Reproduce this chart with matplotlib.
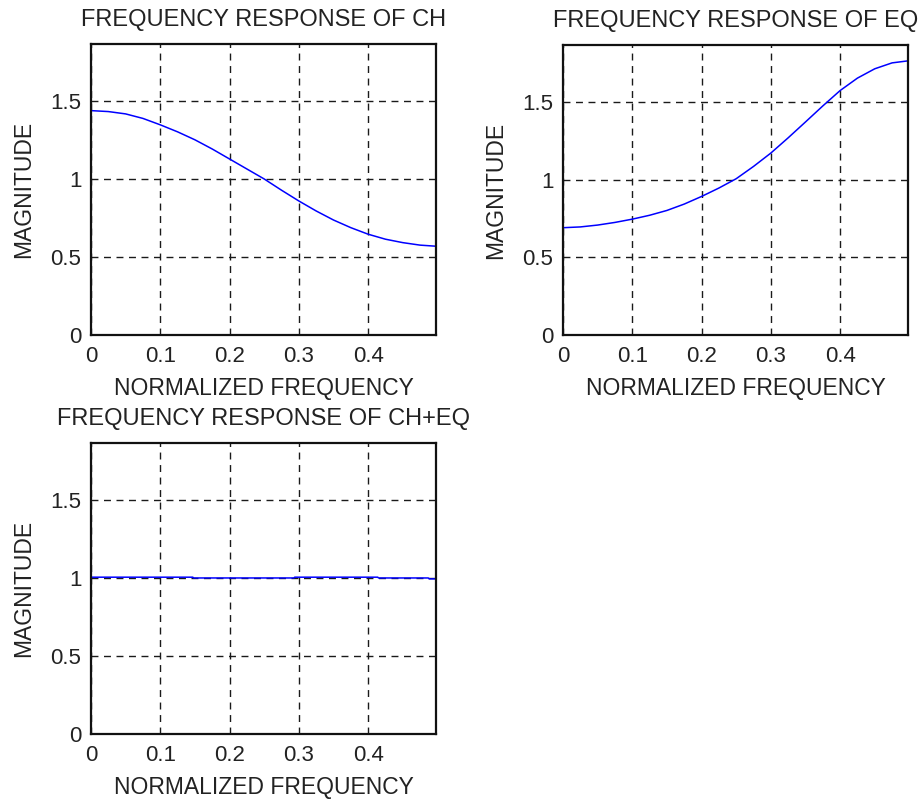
import matplotlib.pyplot as plt

# normalized frequency grid
freq = [0.0, 0.025, 0.05, 0.075, 0.1, 0.125, 0.15, 0.175, 0.2, 0.225, 0.25,
        0.275, 0.3, 0.325, 0.35, 0.375, 0.4, 0.425, 0.45, 0.475, 0.498]

# channel magnitude
ch_mag = [1.438, 1.432, 1.417, 1.388, 1.347, 1.302, 1.251, 1.192, 1.128, 1.064, 1.0,
          0.928, 0.859, 0.795, 0.737, 0.688, 0.646, 0.614, 0.592, 0.576, 0.569]

# equalizer magnitude
eq_mag = [0.690, 0.695, 0.707, 0.724, 0.745, 0.770, 0.801, 0.842, 0.891, 0.945, 1.005,
          1.084, 1.170, 1.268, 1.370, 1.473, 1.572, 1.652, 1.712, 1.750, 1.763]

# channel + equalizer (flat, tiny steps)
comb_freq = [0.0, 0.147, 0.148, 0.293, 0.294, 0.414, 0.415, 0.487, 0.488, 0.498]
comb_mag = [1.005, 1.005, 1.0, 1.0, 1.005, 1.005, 1.0, 1.0, 0.994, 0.994]

xticks = [0, 0.1, 0.2, 0.3, 0.4]
xtick_labels = ['0', '0.1', '0.2', '0.3', '0.4']
yticks = [0, 0.5, 1, 1.5]
ytick_labels = ['0', '0.5', '1', '1.5']

plt.rcParams['font.family'] = ['Liberation Sans', 'DejaVu Sans']

fig = plt.figure(figsize=(9.18, 8), dpi=100)

W, H = 918.0, 800.0
def box(l, t, r, b):
    return [l / W, 1 - b / H, (r - l) / W, (b - t) / H]

panels = [
    (box(91, 44, 436, 335), freq, ch_mag, 'FREQUENCY RESPONSE OF CH'),
    (box(563, 45, 908, 335), freq, eq_mag, 'FREQUENCY RESPONSE OF EQ'),
    (box(91, 443, 436, 734), comb_freq, comb_mag, 'FREQUENCY RESPONSE OF CH+EQ'),
]

for rect, x, y, title in panels:
    ax = fig.add_axes(rect)
    ax.plot(x, y, color='#0000ff', lw=1.1, zorder=3)
    ax.set_xlim(0, 0.498)
    ax.set_ylim(0, 1.865)
    ax.set_xticks(xticks)
    ax.set_xticklabels(xtick_labels)
    ax.set_yticks(yticks)
    ax.set_yticklabels(ytick_labels)
    ax.grid(True, color='#1a1a1a', linestyle=(0, (5, 4)), linewidth=1.0)
    ax.set_axisbelow(True)
    ax.tick_params(direction='in', length=0, labelsize=16, pad=7, colors='#222222')
    ax.tick_params(axis='x', pad=8)
    for s in ax.spines.values():
        s.set_linewidth(1.6)
        s.set_color('#111111')
        s.set_zorder(4)
    ax.set_title(title, fontsize=17, pad=13, color='#222222')
    ax.set_xlabel('NORMALIZED FREQUENCY', fontsize=16.5, labelpad=7, color='#222222')
    ax.set_ylabel('MAGNITUDE', fontsize=16.5, labelpad=11, color='#222222')

fig.savefig('out.png', dpi=100)
